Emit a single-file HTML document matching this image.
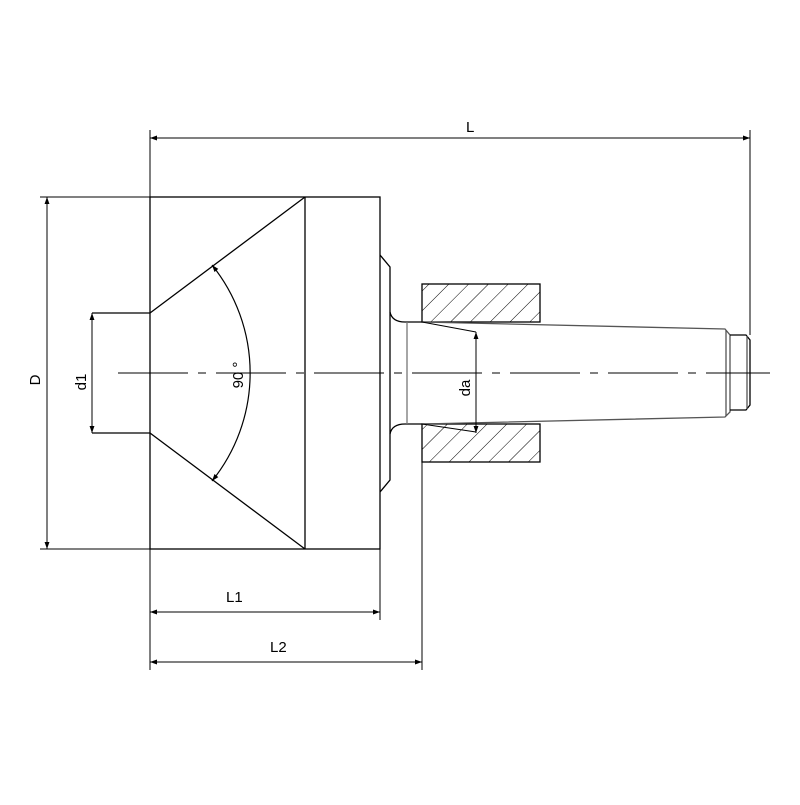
<!DOCTYPE html>
<html><head><style>body{margin:0;background:#fff}</style></head><body>
<svg width="800" height="800" viewBox="0 0 800 800" xmlns="http://www.w3.org/2000/svg">
<defs>
<marker id="a" viewBox="0 0 10 10" refX="10" refY="5" markerWidth="10" markerHeight="7" orient="auto-start-reverse" markerUnits="userSpaceOnUse"><path d="M0,1.5 L10,5 L0,8.5 z" fill="#000"/></marker>
<pattern id="h" width="14" height="14" patternUnits="userSpaceOnUse" patternTransform="rotate(45)"><line x1="0" y1="0" x2="0" y2="14" stroke="#000" stroke-width="1"/></pattern>
</defs>
<g fill="none" stroke="#000" stroke-width="1.3">
<!-- body -->
<rect x="150" y="197" width="230" height="352"/>
<line x1="305" y1="197" x2="305" y2="549"/>
<line x1="305" y1="197" x2="150" y2="313"/>
<line x1="150" y1="433" x2="305" y2="549"/>
<line x1="92" y1="313" x2="150" y2="313"/>
<line x1="92" y1="433" x2="150" y2="433"/>
<!-- flange -->
<path d="M380,255 L390,267 L390,480 L380,492"/>
<path d="M390,312 Q392,322 405,322 L422,322 M390,434 Q392,424 405,424 L422,424"/>
<line x1="407" y1="322" x2="407" y2="424" stroke="#777"/>
<!-- hatch boxes -->
<rect x="422" y="284" width="118" height="38" fill="url(#h)"/>
<rect x="422" y="424" width="118" height="38" fill="url(#h)"/>
<!-- shank taper -->
<path d="M422,322 L725,329 L730,335 L730,412 L725,417 L422,424" stroke="#555"/>
<path d="M422,322 L476,332 M422,424 L476,432" stroke-width="1"/>
<line x1="726" y1="330" x2="726" y2="416" stroke="#555"/>
<path d="M730,335 L746,335 L750,340 L750,405 L746,410 L730,410"/>
<line x1="747" y1="336" x2="747" y2="409" stroke="#555"/>
<!-- centerline -->
<line x1="118" y1="373" x2="770" y2="373" stroke-width="1" stroke-dasharray="70,10,8,10"/>
<!-- angle arc -->
<path d="M212,265 A172,172 0 0 1 212,481" stroke-width="1.2" marker-start="url(#a)" marker-end="url(#a)"/>
</g>
<g stroke="#000" stroke-width="1" fill="none">
<!-- L -->
<line x1="150" y1="130" x2="150" y2="197"/>
<line x1="750" y1="130" x2="750" y2="335"/>
<line x1="150" y1="138" x2="750" y2="138" marker-start="url(#a)" marker-end="url(#a)"/>
<!-- D -->
<line x1="40" y1="197" x2="150" y2="197"/>
<line x1="40" y1="549" x2="150" y2="549"/>
<line x1="47" y1="197" x2="47" y2="549" marker-start="url(#a)" marker-end="url(#a)"/>
<!-- d1 -->
<line x1="92" y1="313" x2="92" y2="433" marker-start="url(#a)" marker-end="url(#a)"/>
<!-- L1 L2 -->
<line x1="150" y1="549" x2="150" y2="670"/>
<line x1="380" y1="549" x2="380" y2="620"/>
<line x1="422" y1="462" x2="422" y2="670"/>
<line x1="150" y1="612" x2="380" y2="612" marker-start="url(#a)" marker-end="url(#a)"/>
<line x1="150" y1="662" x2="422" y2="662" marker-start="url(#a)" marker-end="url(#a)"/>
<!-- da -->
<line x1="476" y1="332" x2="476" y2="433" marker-start="url(#a)" marker-end="url(#a)"/>
</g>
<g font-family="Liberation Sans, sans-serif" font-size="15" fill="#000">
<text x="466" y="132">L</text>
<text x="226" y="602">L1</text>
<text x="270" y="652">L2</text>
<text transform="translate(40,380) rotate(-90)" text-anchor="middle">D</text>
<text transform="translate(86,382) rotate(-90)" text-anchor="middle">d1</text>
<text transform="translate(470,388) rotate(-90)" text-anchor="middle">da</text>
<text transform="translate(243,375) rotate(-90)" text-anchor="middle">90 °</text>
</g>
</svg>
</body></html>
